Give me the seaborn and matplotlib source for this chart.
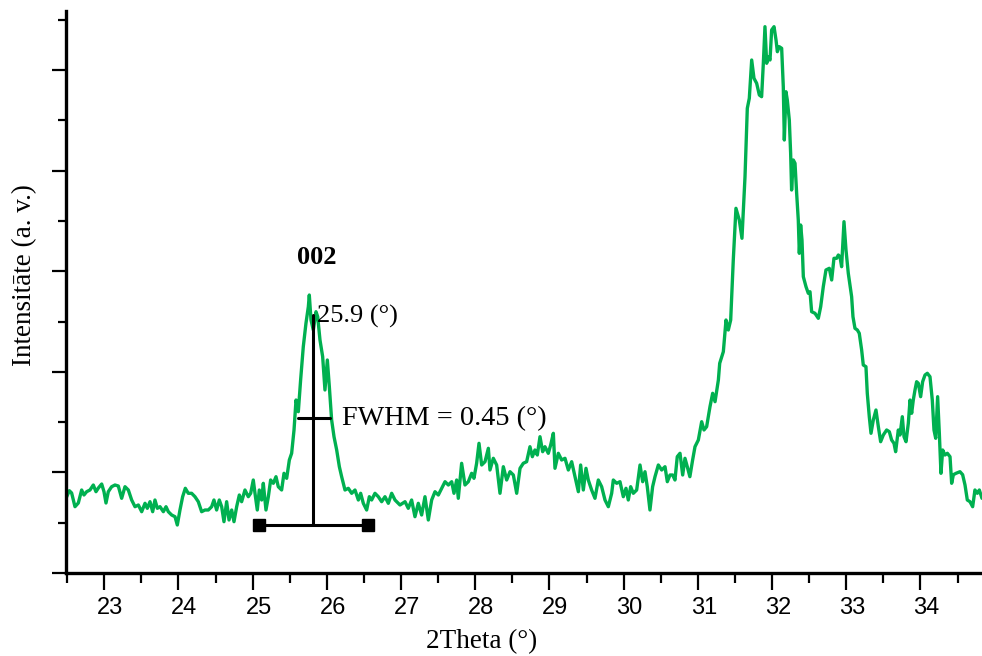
import matplotlib
matplotlib.use("Agg")
import matplotlib.pyplot as plt
import pandas as pd
import seaborn as sns
from matplotlib.ticker import MultipleLocator
from matplotlib.transforms import ScaledTranslation

# ---- data (2theta in degrees, intensity in arbitrary units) ----
two_theta = [
    22.484, 22.529, 22.560, 22.605, 22.650, 22.695, 22.726, 22.762, 22.807, 22.852,
    22.888, 22.920, 22.965, 22.996, 23.023, 23.054, 23.099, 23.144, 23.189, 23.234,
    23.279, 23.324, 23.369, 23.414, 23.459, 23.504, 23.549, 23.580, 23.616, 23.652,
    23.683, 23.715, 23.751, 23.796, 23.832, 23.863, 23.908, 23.953, 23.984, 24.020,
    24.056, 24.092, 24.132, 24.177, 24.222, 24.267, 24.312, 24.357, 24.402, 24.447,
    24.478, 24.514, 24.550, 24.582, 24.613, 24.649, 24.681, 24.717, 24.748, 24.784,
    24.820, 24.851, 24.896, 24.941, 24.973, 25.008, 25.031, 25.062, 25.089, 25.121,
    25.143, 25.179, 25.211, 25.242, 25.278, 25.314, 25.345, 25.390, 25.422, 25.458,
    25.494, 25.525, 25.557, 25.584, 25.615, 25.646, 25.682, 25.718, 25.750, 25.763,
    25.786, 25.817, 25.853, 25.876, 25.907, 25.943, 25.974, 26.006, 26.033, 26.064,
    26.096, 26.132, 26.168, 26.199, 26.244, 26.289, 26.334, 26.379, 26.424, 26.455,
    26.491, 26.536, 26.572, 26.603, 26.648, 26.693, 26.738, 26.783, 26.828, 26.873,
    26.918, 26.985, 27.053, 27.097, 27.142, 27.187, 27.232, 27.277, 27.322, 27.367,
    27.412, 27.457, 27.502, 27.547, 27.592, 27.637, 27.682, 27.713, 27.749, 27.771,
    27.816, 27.861, 27.906, 27.951, 27.982, 28.018, 28.050, 28.086, 28.131, 28.176,
    28.198, 28.243, 28.288, 28.333, 28.378, 28.423, 28.468, 28.513, 28.558, 28.603,
    28.647, 28.692, 28.737, 28.769, 28.804, 28.836, 28.872, 28.908, 28.939, 28.984,
    29.016, 29.052, 29.074, 29.119, 29.164, 29.209, 29.254, 29.299, 29.344, 29.389,
    29.420, 29.456, 29.492, 29.523, 29.568, 29.613, 29.658, 29.703, 29.748, 29.793,
    29.838, 29.860, 29.905, 29.950, 29.995, 30.031, 30.062, 30.094, 30.130, 30.175,
    30.220, 30.256, 30.287, 30.318, 30.354, 30.390, 30.422, 30.467, 30.512, 30.557,
    30.588, 30.624, 30.660, 30.691, 30.722, 30.759, 30.795, 30.826, 30.857, 30.892,
    30.929, 30.961, 31.006, 31.051, 31.082, 31.118, 31.163, 31.199, 31.231, 31.276,
    31.294, 31.343, 31.379, 31.410, 31.442, 31.477, 31.513, 31.558, 31.594, 31.635,
    31.666, 31.693, 31.725, 31.756, 31.792, 31.828, 31.859, 31.882, 31.904, 31.927,
    31.949, 31.972, 31.994, 32.026, 32.053, 32.071, 32.097, 32.129, 32.151, 32.165,
    32.187, 32.205, 32.232, 32.250, 32.263, 32.286, 32.309, 32.331, 32.353, 32.367,
    32.385, 32.403, 32.421, 32.457, 32.488, 32.511, 32.533, 32.578, 32.623, 32.655,
    32.690, 32.726, 32.771, 32.803, 32.834, 32.870, 32.893, 32.915, 32.937, 32.969,
    32.996, 33.027, 33.072, 33.090, 33.117, 33.149, 33.175, 33.207, 33.229, 33.265,
    33.283, 33.310, 33.333, 33.364, 33.400, 33.432, 33.463, 33.499, 33.544, 33.580,
    33.611, 33.643, 33.665, 33.701, 33.724, 33.755, 33.778, 33.805, 33.836, 33.859,
    33.881, 33.903, 33.926, 33.948, 33.971, 34.002, 34.029, 34.061, 34.092, 34.128,
    34.159, 34.182, 34.205, 34.231, 34.254, 34.276, 34.299, 34.330, 34.362, 34.398,
    34.420, 34.443, 34.479, 34.532, 34.568, 34.600, 34.631, 34.667, 34.703, 34.734,
    34.766, 34.793, 34.829,
]
intensity = [
    74.7, 82.3, 80.0, 66.3, 70.0, 83.0, 78.0, 81.3, 83.0, 88.0,
    81.3, 85.0, 89.0, 81.3, 70.0, 81.3, 86.3, 88.0, 87.0, 74.7,
    86.3, 83.0, 73.0, 66.3, 68.0, 61.3, 69.7, 64.7, 71.3, 61.3,
    73.0, 64.7, 66.3, 61.3, 66.3, 61.3, 58.0, 56.3, 48.0, 63.0,
    76.3, 84.7, 79.7, 79.7, 76.3, 71.3, 61.3, 63.0, 63.0, 66.3,
    73.0, 63.0, 73.0, 66.3, 51.3, 71.3, 53.0, 63.0, 51.3, 66.3,
    78.0, 71.3, 83.0, 76.3, 79.7, 93.0, 79.7, 63.0, 83.0, 73.0,
    89.7, 63.0, 76.3, 93.0, 89.7, 96.3, 86.3, 83.0, 99.7, 94.7,
    113.0, 119.7, 143.0, 173.0, 161.3, 193.0, 226.3, 249.7, 266.3, 278.0,
    253.0, 243.0, 261.3, 256.3, 233.0, 216.3, 183.0, 213.0, 186.3, 153.0,
    136.3, 123.0, 106.3, 96.3, 83.0, 84.7, 79.7, 83.0, 73.0, 79.7,
    69.7, 63.0, 76.3, 73.0, 79.7, 76.3, 71.3, 76.3, 69.7, 79.7,
    73.0, 68.0, 71.3, 64.7, 73.0, 56.3, 69.7, 58.0, 76.3, 53.0,
    73.0, 81.3, 78.0, 84.7, 91.3, 88.0, 91.3, 79.7, 93.0, 74.7,
    109.7, 88.0, 91.3, 99.7, 94.7, 109.7, 129.7, 108.0, 111.3, 124.7,
    103.0, 114.7, 108.0, 79.7, 106.3, 93.0, 101.3, 98.0, 79.7, 104.7,
    109.7, 111.3, 126.3, 116.3, 123.0, 118.0, 136.3, 121.3, 126.3, 119.7,
    128.0, 139.7, 104.7, 119.7, 113.0, 114.7, 103.0, 111.3, 96.3, 81.3,
    108.0, 83.0, 104.7, 93.0, 83.0, 74.7, 93.0, 86.3, 73.0, 66.3,
    79.7, 93.0, 89.7, 91.3, 76.3, 84.7, 73.0, 86.3, 79.7, 83.0,
    108.0, 91.3, 101.3, 86.3, 63.0, 86.3, 96.3, 108.0, 103.0, 106.3,
    91.3, 98.0, 98.0, 93.0, 116.3, 119.7, 98.0, 114.7, 106.3, 96.3,
    113.0, 126.3, 133.0, 151.3, 143.0, 146.3, 166.3, 179.7, 171.3, 193.0,
    209.7, 221.3, 253.0, 243.0, 253.0, 313.0, 364.7, 353.0, 334.7, 396.3,
    464.7, 474.7, 513.0, 494.7, 489.7, 478.0, 476.3, 509.7, 546.3, 509.7,
    516.3, 513.0, 543.0, 546.3, 533.0, 521.3, 526.3, 524.7, 486.3, 433.0,
    481.3, 473.0, 453.0, 419.7, 383.0, 413.0, 409.7, 379.7, 353.0, 319.7,
    348.0, 333.0, 296.3, 286.3, 279.7, 281.3, 261.3, 259.7, 254.7, 266.3,
    286.3, 303.0, 304.7, 293.0, 314.7, 314.7, 318.0, 316.3, 306.3, 351.3,
    323.0, 299.7, 276.3, 256.3, 244.7, 243.0, 239.7, 223.0, 208.0, 206.3,
    179.7, 156.3, 139.7, 153.0, 163.0, 146.3, 131.3, 138.0, 143.0, 141.3,
    133.0, 129.7, 121.3, 143.0, 138.0, 156.3, 136.3, 131.3, 149.7, 173.0,
    159.7, 173.0, 183.0, 191.3, 189.7, 176.3, 191.3, 198.0, 199.7, 196.3,
    173.0, 143.0, 134.7, 176.3, 139.7, 99.7, 123.0, 118.0, 119.7, 116.3,
    89.7, 98.3, 99.7, 101.3, 98.3, 88.0, 73.0, 71.3, 66.3, 83.0,
    79.7, 83.0, 74.7,
]

x_ticks = [23, 24, 25, 26, 27, 28, 29, 30, 31, 32, 33, 34]
x_tick_labels = ["23", "24", "25", "26", "27", "28", "29", "30", "31", "32", "33", "34"]

# annotation of the 002 peak
peak_label = "002"
peak_pos_label = "25.9 (°)"
fwhm_label = "FWHM = 0.45 (°)"
peak_line_x = 25.81
peak_line_top = 258.0
base_level = 48.0
base_span = [25.09, 26.55]
fwhm_level = 155.0
fwhm_span = [25.615, 26.042]

# ---- figure ----
sns.set_style("ticks")
plt.rcParams["font.family"] = ["Liberation Serif", "DejaVu Serif"]
plt.rcParams["text.color"] = "black"
plt.rcParams["axes.labelcolor"] = "black"
plt.rcParams["xtick.color"] = "black"
plt.rcParams["ytick.color"] = "black"
plt.rcParams["axes.edgecolor"] = "black"

fig = plt.figure(figsize=(9.82, 6.56), dpi=100)
ax = fig.add_axes([66 / 982, 83 / 656, 916 / 982, 562 / 656])

df = pd.DataFrame({"two_theta": two_theta, "intensity": intensity})
sns.lineplot(data=df, x="two_theta", y="intensity", ax=ax, color="#00B050",
             linewidth=2.4, sort=False, estimator=None)

ax.set_xlim(22.484, 34.829)
ax.set_ylim(0, 562)
ax.set_xticks(x_ticks, labels=x_tick_labels)
ax.xaxis.set_minor_locator(MultipleLocator(0.5))
ax.yaxis.set_major_locator(MultipleLocator(100.6))
ax.yaxis.set_minor_locator(MultipleLocator(50.3))
ax.tick_params(axis="y", labelleft=False)
ax.tick_params(axis="x", which="major", length=12, width=1.6, pad=5,
               labelsize=17, colors="black")
ax.tick_params(axis="x", which="minor", length=7, width=1.6)
ax.tick_params(axis="y", which="major", length=10, width=1.6)
ax.tick_params(axis="y", which="minor", length=6, width=1.6)
offset = ScaledTranslation(6 / 100, 0, fig.dpi_scale_trans)
for lab in ax.get_xticklabels():
    lab.set_fontfamily(["Liberation Sans", "DejaVu Sans"])
    lab.set_color("black")
    lab.set_transform(lab.get_transform() + offset)

for side in ("top", "right"):
    ax.spines[side].set_visible(False)
for side in ("left", "bottom"):
    ax.spines[side].set_linewidth(2.4)
    ax.spines[side].set_color("black")

ax.set_xlabel("2Theta (°)", fontsize=19.5, color="black")
ax.set_ylabel("Intensitāte (a. v.)", fontsize=19.5, color="black")
ax.xaxis.set_label_coords(0.454, -0.1)
ax.yaxis.set_label_coords(-0.032, 0.53)

# annotation marks
ax.plot([peak_line_x, peak_line_x], [peak_line_top, base_level], color="black", lw=2.2)
ax.plot(base_span, [base_level, base_level], color="black", lw=2.2,
        marker="s", markersize=8)
ax.plot(fwhm_span, [fwhm_level, fwhm_level], color="black", lw=2.2)
ax.text(25.862, 315.5, peak_label, ha="center", va="center", fontsize=19,
        fontweight="bold", color="black")
ax.text(25.867, 257, peak_pos_label, ha="left", va="center", fontsize=19,
        color="black")
ax.text(26.199, 154, fwhm_label, ha="left", va="center", fontsize=20.3,
        color="black")

fig.savefig("out.png", dpi=100)
